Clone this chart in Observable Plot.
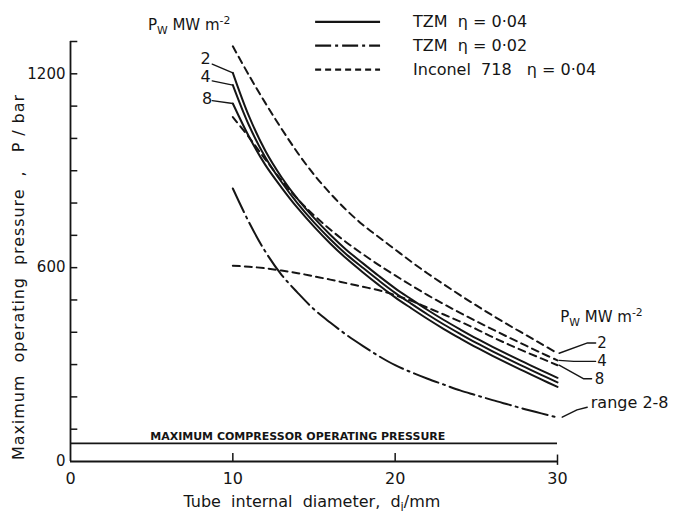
<!DOCTYPE html>
<html><head><meta charset="utf-8">
<script src="https://cdn.jsdelivr.net/npm/d3@7"></script>
<script src="https://cdn.jsdelivr.net/npm/@observablehq/plot@0.6"></script>
<style>body{margin:0;background:#fff} svg{display:block}</style>
</head><body><div id="chart"></div>
<script>
// Tube internal diameter d_i (mm)
const diameters = [10,11,12,13,14,15,16,17,18,19,20,21,22,23,24,25,26,27,28,29,30];
// TZM, eta = 0.04, Pw = 2, 4, 8 MW m^-2  (P / bar)
const tzm04_pw2 = [1203,1068,962,880,812,754,702,655,614,574,536,502,469,438,409,381,355,330,306,282,259];
const tzm04_pw4 = [1165,1040,942,865,798,740,688,641,600,560,522,488,455,424,395,367,341,316,292,268,245];
const tzm04_pw8 = [1108,1005,918,848,784,727,675,628,586,546,508,474,441,410,381,353,327,302,278,254,231];
// TZM, eta = 0.02, range Pw 2-8
const tzm02_range = [845,740,650,578,522,471,430,392,358,326,298,276,256,238,220,205,190,176,162,149,136];
// Inconel 718, eta = 0.04, Pw = 2, 4, 8
const inc_pw2 = [1285,1195,1110,1030,955,888,830,778,733,694,656,618,582,548,515,483,452,422,393,364,335];
const inc_pw4 = [1066,1003,935,870,812,762,718,678,642,608,576,545,515,487,460,434,409,384,360,336,313];
const inc_pw8 = [606,603,598,591,583,573,563,552,541,530,515,497,476,455,433,410,385,362,340,319,298];
// Maximum compressor operating pressure (bar)
const compressorPressure = 56;
// Axis ticks
const xTickLabels = [0,10,20,30];
const yTickLabels = [0,600,1200];
const yMinorTicks = [100,200,300,400,500,600,700,800,900,1000,1100,1200,1300];
// Legend entries
const legendLabels = ["TZM  \u03B7 = 0\u00B704", "TZM  \u03B7 = 0\u00B702", "Inconel  718   \u03B7 = 0\u00B704"];
const pwLabels = ["2","4","8"];

const FONT = "'DejaVu Sans', 'Liberation Sans', sans-serif";
const INK = "#151515";
const rows = vals => diameters.map((d,i)=>({d, p: vals[i]}));
const base = {x:"d", y:"p", curve:"catmull-rom", stroke:INK, strokeWidth:2};
const solid = base;
const dashDot = {...base, strokeDasharray:"26,5,2,5"};
const dashed = {...base, strokeDasharray:"7,5"};

// annotation anchor positions (data units)
const leftLeaders = [
  [[8.73,1230],[10,1203]],
  [[8.73,1178],[10,1165]],
  [[8.73,1117],[10,1108]]
];
const leftLabelPos = [[8.32,1246],[8.32,1189],[8.42,1122]];
const rightLeaders = [
  [[30.1,335],[31.85,367],[32.35,367]],
  [[30.1,313],[31.0,310],[32.35,310]],
  [[30.1,298],[31.62,256],[32.1,256]]
];
const rightLabelPos = [[32.45,367],[32.45,310],[32.3,256]];
const legendY = [1361,1287,1213];

const leaderMarks = [...leftLeaders, ...rightLeaders].map(seg =>
  Plot.line(seg, {x:d=>d[0], y:d=>d[1], stroke:INK, strokeWidth:1.4}));

const plot = Plot.plot({
  width:674, height:515,
  marginLeft:70, marginRight:117, marginTop:41, marginBottom:54,
  style:{fontFamily:FONT, background:"#fff", color:INK, fontSize:"15px"},
  x:{domain:[0,30], axis:null},
  y:{domain:[0,1300], axis:null},
  marks:[
    // axes
    Plot.ruleX([0], {y1:0, y2:1300, stroke:INK, strokeWidth:1.8}),
    Plot.ruleY([0], {x1:0, x2:30, stroke:INK, strokeWidth:1.8}),
    Plot.ruleY(yMinorTicks, {x1:0, x2:0.45, stroke:INK, strokeWidth:1.5}),
    Plot.ruleX([10,20], {y1:0, y2:25, stroke:INK, strokeWidth:1.5}),
    Plot.ruleX([30], {y1:-12, y2:20, stroke:INK, strokeWidth:1.5}),
    Plot.text(yTickLabels, {x:0, y:d=>d, text:d=>String(d), dx:-5, textAnchor:"end", fontSize:15, fill:INK}),
    Plot.text(xTickLabels, {x:d=>d, y:0, text:d=>String(d), dy:17, fontSize:16, fill:INK}),
    // compressor
    Plot.ruleY([compressorPressure], {x1:0, x2:30, stroke:INK, strokeWidth:1.7}),
    Plot.text([compressorPressure], {x:14.0, y:d=>d, dy:-7, text:()=>"MAXIMUM COMPRESSOR OPERATING PRESSURE", fontSize:11, fontWeight:"bold", fill:INK}),
    // curves
    Plot.line(rows(tzm04_pw2), solid),
    Plot.line(rows(tzm04_pw4), solid),
    Plot.line(rows(tzm04_pw8), solid),
    Plot.line(rows(tzm02_range), dashDot),
    Plot.line(rows(inc_pw2), dashed),
    Plot.line(rows(inc_pw4), dashed),
    Plot.line(rows(inc_pw8), dashed),
    // leaders and labels
    ...leaderMarks,
    Plot.text(pwLabels, {x:(d,i)=>leftLabelPos[i][0], y:(d,i)=>leftLabelPos[i][1], text:d=>d, fontSize:16, fill:INK}),
    Plot.text(pwLabels, {x:(d,i)=>rightLabelPos[i][0], y:(d,i)=>rightLabelPos[i][1], text:d=>d, textAnchor:"start", fontSize:15, fill:INK}),
    Plot.line([[30.29,137],[31.2,160],[31.83,168]], {x:d=>d[0], y:d=>d[1], stroke:INK, strokeWidth:1.4}),
    Plot.text(["range 2-8"], {x:32.05, y:181, textAnchor:"start", fontSize:16, fill:INK}),
    // legend
    Plot.ruleY([legendY[0]], {x1:15.1, x2:19.1, stroke:INK, strokeWidth:2.2}),
    Plot.ruleY([legendY[1]], {x1:15.1, x2:19.1, stroke:INK, strokeWidth:2.2, strokeDasharray:"16,4,3,4"}),
    Plot.ruleY([legendY[2]], {x1:15.1, x2:19.1, stroke:INK, strokeWidth:2.2, strokeDasharray:"6,4"}),
    Plot.text(legendLabels, {x:21.1, y:(d,i)=>legendY[i], text:d=>d, textAnchor:"start", fontSize:16, fill:INK})
  ]
});
document.getElementById("chart").appendChild(plot);

// rich text (sub/superscripts) placed through the plot's scales
const svg = d3.select(plot);
const sx = v => plot.scale("x").apply(v);
const sy = v => plot.scale("y").apply(v);
function rich(x, y, parts, opts={}) {
  const t = svg.append("text")
    .attr("x", x).attr("y", y)
    .attr("font-family", FONT).attr("font-size", opts.size || 15)
    .attr("fill", INK)
    .attr("text-anchor", opts.anchor || "start");
  if (opts.rotate) t.attr("transform", `rotate(${opts.rotate},${x},${y})`);
  if (opts.length) t.attr("textLength", opts.length).attr("lengthAdjust", "spacing");
  let shift = 0;
  for (const [s, kind] of parts) {
    const target = kind === "sub" ? 4 : kind === "sup" ? -6 : 0;
    t.append("tspan").attr("dy", target - shift)
      .attr("font-size", kind ? (opts.size || 15) * 0.72 : null)
      .text(s);
    shift = target;
  }
  return t;
}
const pwParts = [["P"],["W","sub"],[" MW m"],["-2","sup"]];
rich(sx(4.8), sy(1333), pwParts);
rich(sx(30.2), sy(430), pwParts);
rich(sx(14.9), 507, [["Tube  internal  diameter,  d"],["i","sub"],["/mm"]], {anchor:"middle", size:16});
rich(24, 460, [["Maximum  operating  pressure  ,   P / bar"]], {anchor:"start", rotate:-90, size:16, length:365});
</script>
</body></html>
